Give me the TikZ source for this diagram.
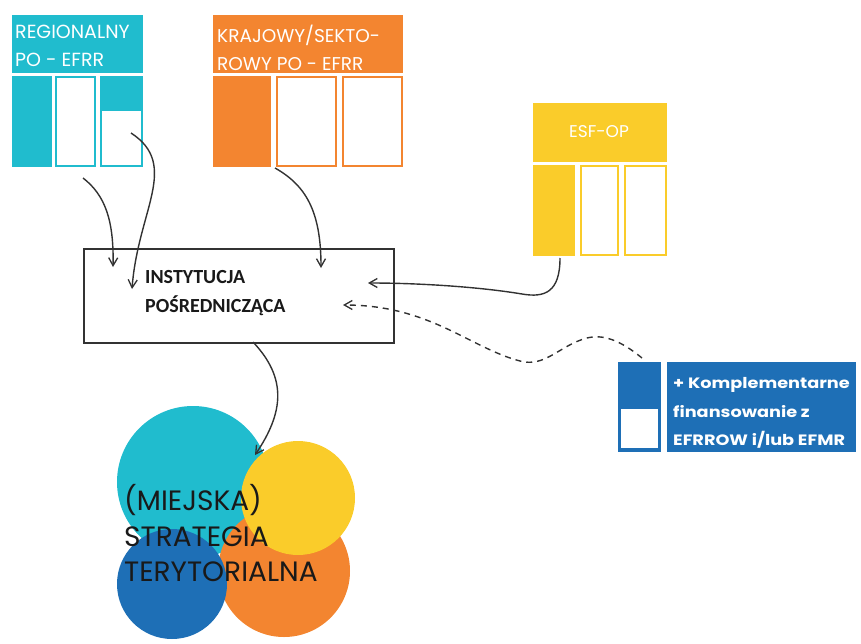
\documentclass[tikz,border=0pt]{standalone}
\usepackage{fontspec}
\usepackage{graphicx}
\setmainfont{Poppins}
\newfontfamily\ipfont{Carlito}
\usetikzlibrary{arrows.meta}
\definecolor{cteal}{RGB}{32,188,206}
\definecolor{corange}{RGB}{243,133,48}
\definecolor{cyellow}{RGB}{250,204,42}
\definecolor{cblue}{RGB}{30,111,182}
\definecolor{cline}{RGB}{50,50,50}
\definecolor{ctext}{RGB}{25,25,25}
\begin{document}
\begin{tikzpicture}[x=1pt,y=-1pt,
  solid part/.style={fill=#1, draw=none, anchor=north west, inner sep=0pt, outer sep=0pt},
  open part/.style={fill=white, draw=#1, line width=2pt, anchor=north west, inner sep=0pt, outer sep=0pt},
  head text/.style={text=white, anchor=base west, inner sep=0pt, font=\fontsize{#1}{#1}\selectfont},
  blue text/.style={text=white, anchor=base west, inner sep=0pt, font=\bfseries\fontsize{15}{15}\selectfont},
  ip text/.style={anchor=base west, inner sep=0pt, text=ctext, font=\ipfont\bfseries\fontsize{20}{20}\selectfont},
  strat text/.style={anchor=base west, inner sep=0pt, text=ctext, font=\fontsize{28}{28}\selectfont},
  conn/.style={draw=cline, line width=1.4pt, -{Straight Barb[length=8pt,width=9pt,line width=1.3pt]}},
  dconn/.style={conn, dash pattern=on 6pt off 5pt},
  disc/.style={circle, draw=none, fill=#1, inner sep=0pt, outer sep=0pt}
]
\useasboundingbox (0,0) rectangle (861,644);

% ---------- REGIONALNY PO - EFRR ----------
\node[solid part=cteal, minimum width=131pt, minimum height=58pt] (rhead) at (12,15) {};
\node[solid part=cteal, minimum width=40pt, minimum height=91pt] (rc1) at (12,76) {};
\node[open part=cteal, minimum width=39pt, minimum height=89pt] (rc2) at (56,77) {};
\node[solid part=cteal, minimum width=43pt, minimum height=34pt] (rc3top) at (100,76) {};
\node[open part=cteal, minimum width=41pt, minimum height=56pt] (rc3) at (101,110) {};
\node[head text=19] (rt1) at (15,39) {REGIONALNY};
\node[head text=19] (rt2) at (15,67) {PO - EFRR};

% ---------- KRAJOWY/SEKTOROWY PO - EFRR ----------
\node[solid part=corange, minimum width=190pt, minimum height=58pt] (khead) at (213,15) {};
\node[solid part=corange, minimum width=58pt, minimum height=91pt] (kc1) at (213,76) {};
\node[open part=corange, minimum width=59pt, minimum height=89pt] (kc2) at (277,77) {};
\node[open part=corange, minimum width=59pt, minimum height=89pt] (kc3) at (343,77) {};
\node[head text=18.5] (kt1) at (217,43) {KRAJOWY/SEKTO-};
\node[head text=18.5] (kt2) at (217,71) {ROWY PO - EFRR};

% ---------- ESF-OP ----------
\node[solid part=cyellow, minimum width=134pt, minimum height=59pt] (ehead) at (533,103) {};
\node[solid part=cyellow, minimum width=42pt, minimum height=91pt] (ec1) at (533,165) {};
\node[open part=cyellow, minimum width=37pt, minimum height=89pt] (ec2) at (581,166) {};
\node[open part=cyellow, minimum width=41pt, minimum height=89pt] (ec3) at (625,166) {};
\node[text=white, inner sep=0pt, font=\fontsize{17}{17}\selectfont] (et) at (599,132) {ESF-OP};

% ---------- Komplementarne ----------
\node[solid part=cblue, minimum width=43pt, minimum height=90pt] (bc1) at (618,362) {};
\node[open part=cblue, minimum width=39pt, minimum height=41pt] (bc1w) at (620,408) {};
\node[solid part=cblue, minimum width=189pt, minimum height=90pt] (bpanel) at (667,362) {};
\node[blue text] (bt1) at (673,388) {\scalebox{1.18}[1]{+ Komplementarne}};
\node[blue text] (bt2) at (673,417) {\scalebox{1.18}[1]{finansowanie z}};
\node[blue text] (bt3) at (673,445) {\scalebox{1.18}[1]{EFRROW i/lub EFMR}};

% ---------- INSTYTUCJA POSREDNICZACA ----------
\node[draw=cline, line width=1.5pt, fill=white, anchor=north west, inner sep=0pt, minimum width=310pt, minimum height=94pt] (ip) at (83,248) {};
\node[ip text] (ipt1) at (145,283) {INSTYTUCJA};
\node[ip text] (ipt2) at (145,312) {POŚREDNICZĄCA};

% ---------- circles ----------
\node[disc=cteal, minimum size=152pt] (dteal) at (193,482) {};
\node[disc=corange, minimum size=132pt] (dorange) at (284,571) {};
\node[disc=cyellow, minimum size=114pt] (dyellow) at (298,498) {};
\node[disc=cblue, minimum size=110pt] (dblue) at (172,584) {};
\node[strat text] (s1) at (124,510) {(MIEJSKA)};
\node[strat text] (s2) at (124,546) {STRATEGIA};
\node[strat text] (s3) at (124,581) {TERYTORIALNA};

% ---------- connector end points ----------
\coordinate (a1s) at (83,178);
\coordinate (a1e) at (113,267);
\coordinate (a2s) at (131,133);
\coordinate (a2e) at (132,289);
\coordinate (a3s) at (275,168);
\coordinate (a3e) at (321,268);
\coordinate (a4s) at (560,258);
\coordinate (a4e) at (368,283);
\coordinate (a5s) at (642,358);
\coordinate (a5e) at (343,305);
\coordinate (a6s) at (253,342);
\coordinate (a6e) at (255,455);

\draw[conn] (a1s) .. controls (105,195) and (114,220) .. (a1e);
\draw[conn] (a2s) .. controls (180,165) and (138,210) .. (a2e);
\draw[conn] (a3s) .. controls (305,185) and (321,210) .. (a3e);
\draw[conn] (a4s) .. controls (560,292) and (545,298) .. (522,294) .. controls (480,287) and (420,283) .. (a4e);
\draw[dconn] (a5s) .. controls (620,340) and (603,334) .. (587,338) .. controls (560,345) and (545,368) .. (520,361) .. controls (470,348) and (430,305) .. (a5e);
\draw[conn] (a6s) .. controls (287,378) and (284,412) .. (a6e);
\end{tikzpicture}
\end{document}
